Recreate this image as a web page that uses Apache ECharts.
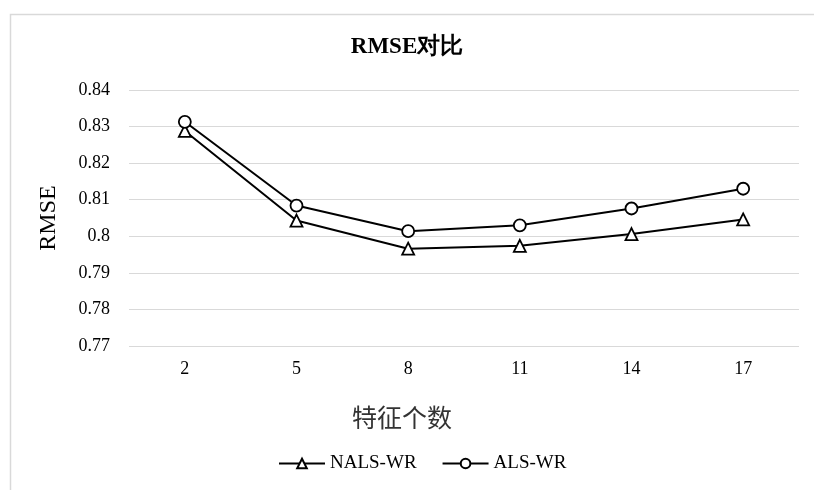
<!DOCTYPE html>
<html><head><meta charset="utf-8">
<script src="https://cdn.jsdelivr.net/npm/echarts@6/dist/echarts.min.js"></script>
<style>html,body{margin:0;padding:0;background:#fff}#c{width:814px;height:490px}</style>
</head><body><div id="c"></div>
<script>
const categories = ['2', '5', '8', '11', '14', '17'];
const nalsWR = [0.8288, 0.8043, 0.7966, 0.7974, 0.8006, 0.8046];
const alsWR = [0.8313, 0.8084, 0.8014, 0.8030, 0.8076, 0.8130];
const yTicks = { min: 0.77, max: 0.84, interval: 0.01 };

const serif = '"Liberation Serif", "Times New Roman", serif';
const chart = echarts.init(document.getElementById('c'));
chart.setOption({
  animation: false,
  backgroundColor: '#fff',
  graphic: [{
    type: 'rect', left: 8, top: 12,
    shape: { width: 820, height: 500 },
    style: { fill: 'none', stroke: '#d9d9d9', lineWidth: 1.5 }
  }],
  title: {
    text: 'RMSE对比', left: 'center', top: 31,
    textStyle: { fontFamily: serif, fontSize: 23, fontWeight: 'bold', color: '#000' }
  },
  legend: {
    bottom: 12, left: 273, itemWidth: 46, itemHeight: 12, itemGap: 25,
    textStyle: { fontFamily: serif, fontSize: 19, color: '#000' },
    data: ['NALS-WR', 'ALS-WR']
  },
  grid: { left: 129, right: 15, top: 90, bottom: 144 },
  xAxis: {
    type: 'category', data: categories,
    name: '特征个数', nameLocation: 'middle', nameGap: 59,
    nameTextStyle: { fontFamily: '"Noto Sans CJK SC", sans-serif', fontSize: 25, color: '#333',
      padding: [0, 124, 0, 0] },
    axisLine: { show: false }, axisTick: { show: false },
    axisLabel: { fontFamily: serif, fontSize: 18, color: '#000', margin: 14 }
  },
  yAxis: {
    type: 'value', min: yTicks.min, max: yTicks.max, interval: yTicks.interval,
    name: 'RMSE', nameLocation: 'middle', nameGap: 68, nameRotate: 90,
    nameTextStyle: { fontFamily: serif, fontSize: 24, color: '#000' },
    axisLine: { show: false }, axisTick: { show: false },
    axisLabel: { fontFamily: serif, fontSize: 18, color: '#000', margin: 19,
      formatter: v => String(parseFloat(v.toFixed(2))) },
    splitLine: { lineStyle: { color: '#d9d9d9', width: 1 } }
  },
  series: [
    { name: 'NALS-WR', type: 'line', data: nalsWR, symbol: 'triangle', symbolSize: 12,
      lineStyle: { color: '#000', width: 2 },
      itemStyle: { color: '#fff', borderColor: '#000', borderWidth: 1.8 } },
    { name: 'ALS-WR', type: 'line', data: alsWR, symbol: 'circle', symbolSize: 12,
      lineStyle: { color: '#000', width: 2 },
      itemStyle: { color: '#fff', borderColor: '#000', borderWidth: 1.8 } }
  ]
});
</script></body></html>
